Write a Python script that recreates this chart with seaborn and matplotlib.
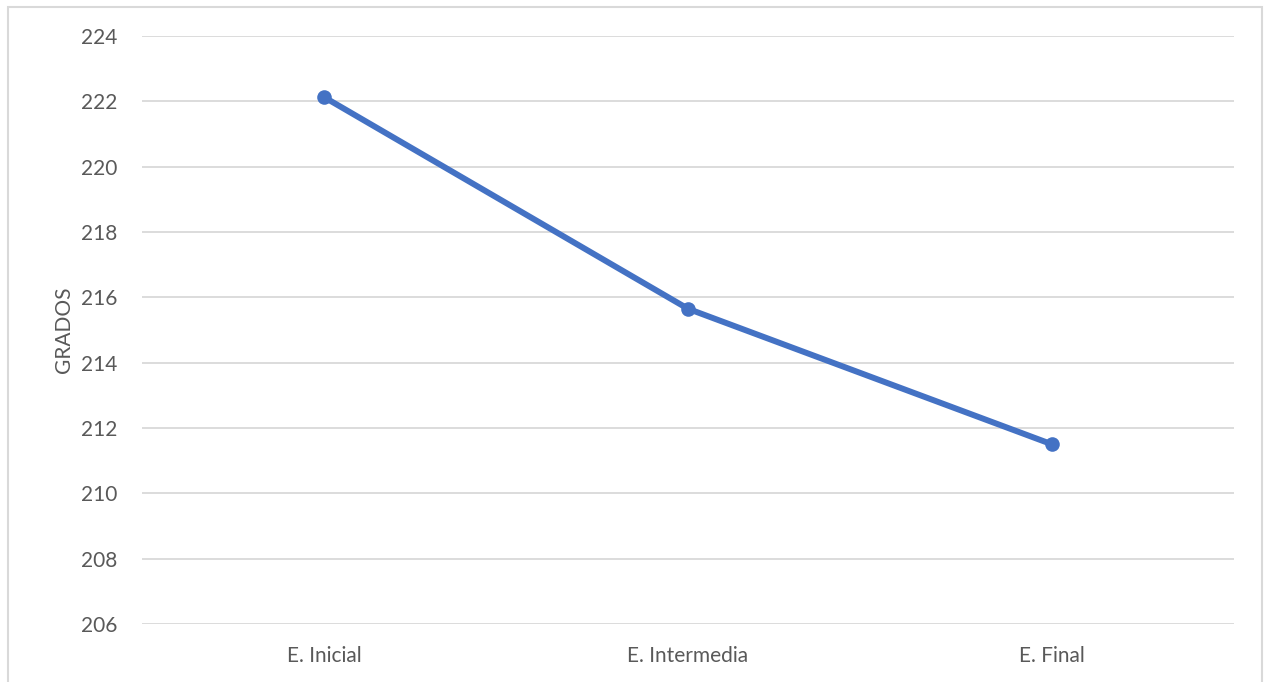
import matplotlib
matplotlib.use("Agg")
import matplotlib.pyplot as plt
import seaborn as sns
import pandas as pd
from matplotlib.patches import Rectangle

# Data
etapas = ["E. Inicial", "E. Intermedia", "E. Final"]
grados = [222.13, 215.65, 211.5]
y_ticks = [206, 208, 210, 212, 214, 216, 218, 220, 222, 224]

sns.set_theme(style="white")
plt.rcParams["font.family"] = ["Lato", "DejaVu Sans"]

df = pd.DataFrame({"etapa": etapas, "grados": grados})

fig = plt.figure(figsize=(12.66, 6.82), dpi=100)
ax = fig.add_axes([142 / 1266, 1 - 624 / 682, (1234 - 142) / 1266, (624 - 36) / 682])

# Light frame around the chart area
fig.patches.append(Rectangle((8 / 1266, -0.05), (1262 - 8) / 1266, 1.05 - 7 / 682,
                             transform=fig.transFigure, fill=False,
                             edgecolor="#d9d9d9", linewidth=1.5, zorder=0))

ax.set_ylim(206, 224)
ax.set_yticks(y_ticks)
ax.yaxis.grid(True, color="#d9d9d9", linewidth=1.3)
ax.set_axisbelow(True)

sns.lineplot(data=df, x="etapa", y="grados", ax=ax, color="#4472C4",
             linewidth=4.3, marker="o", markersize=10.5, markeredgewidth=0,
             sort=False)

ax.set_xlim(-0.5, 2.5)
for s in ax.spines.values():
    s.set_visible(False)
ax.tick_params(axis="both", length=0, labelsize=15, colors="#595959")
ax.tick_params(axis="y", pad=18)
ax.tick_params(axis="x", pad=16)
ax.set_xlabel("")
ax.set_ylabel("GRADOS", fontsize=15, color="#595959", labelpad=5)

fig.savefig("out.png", dpi=100)
